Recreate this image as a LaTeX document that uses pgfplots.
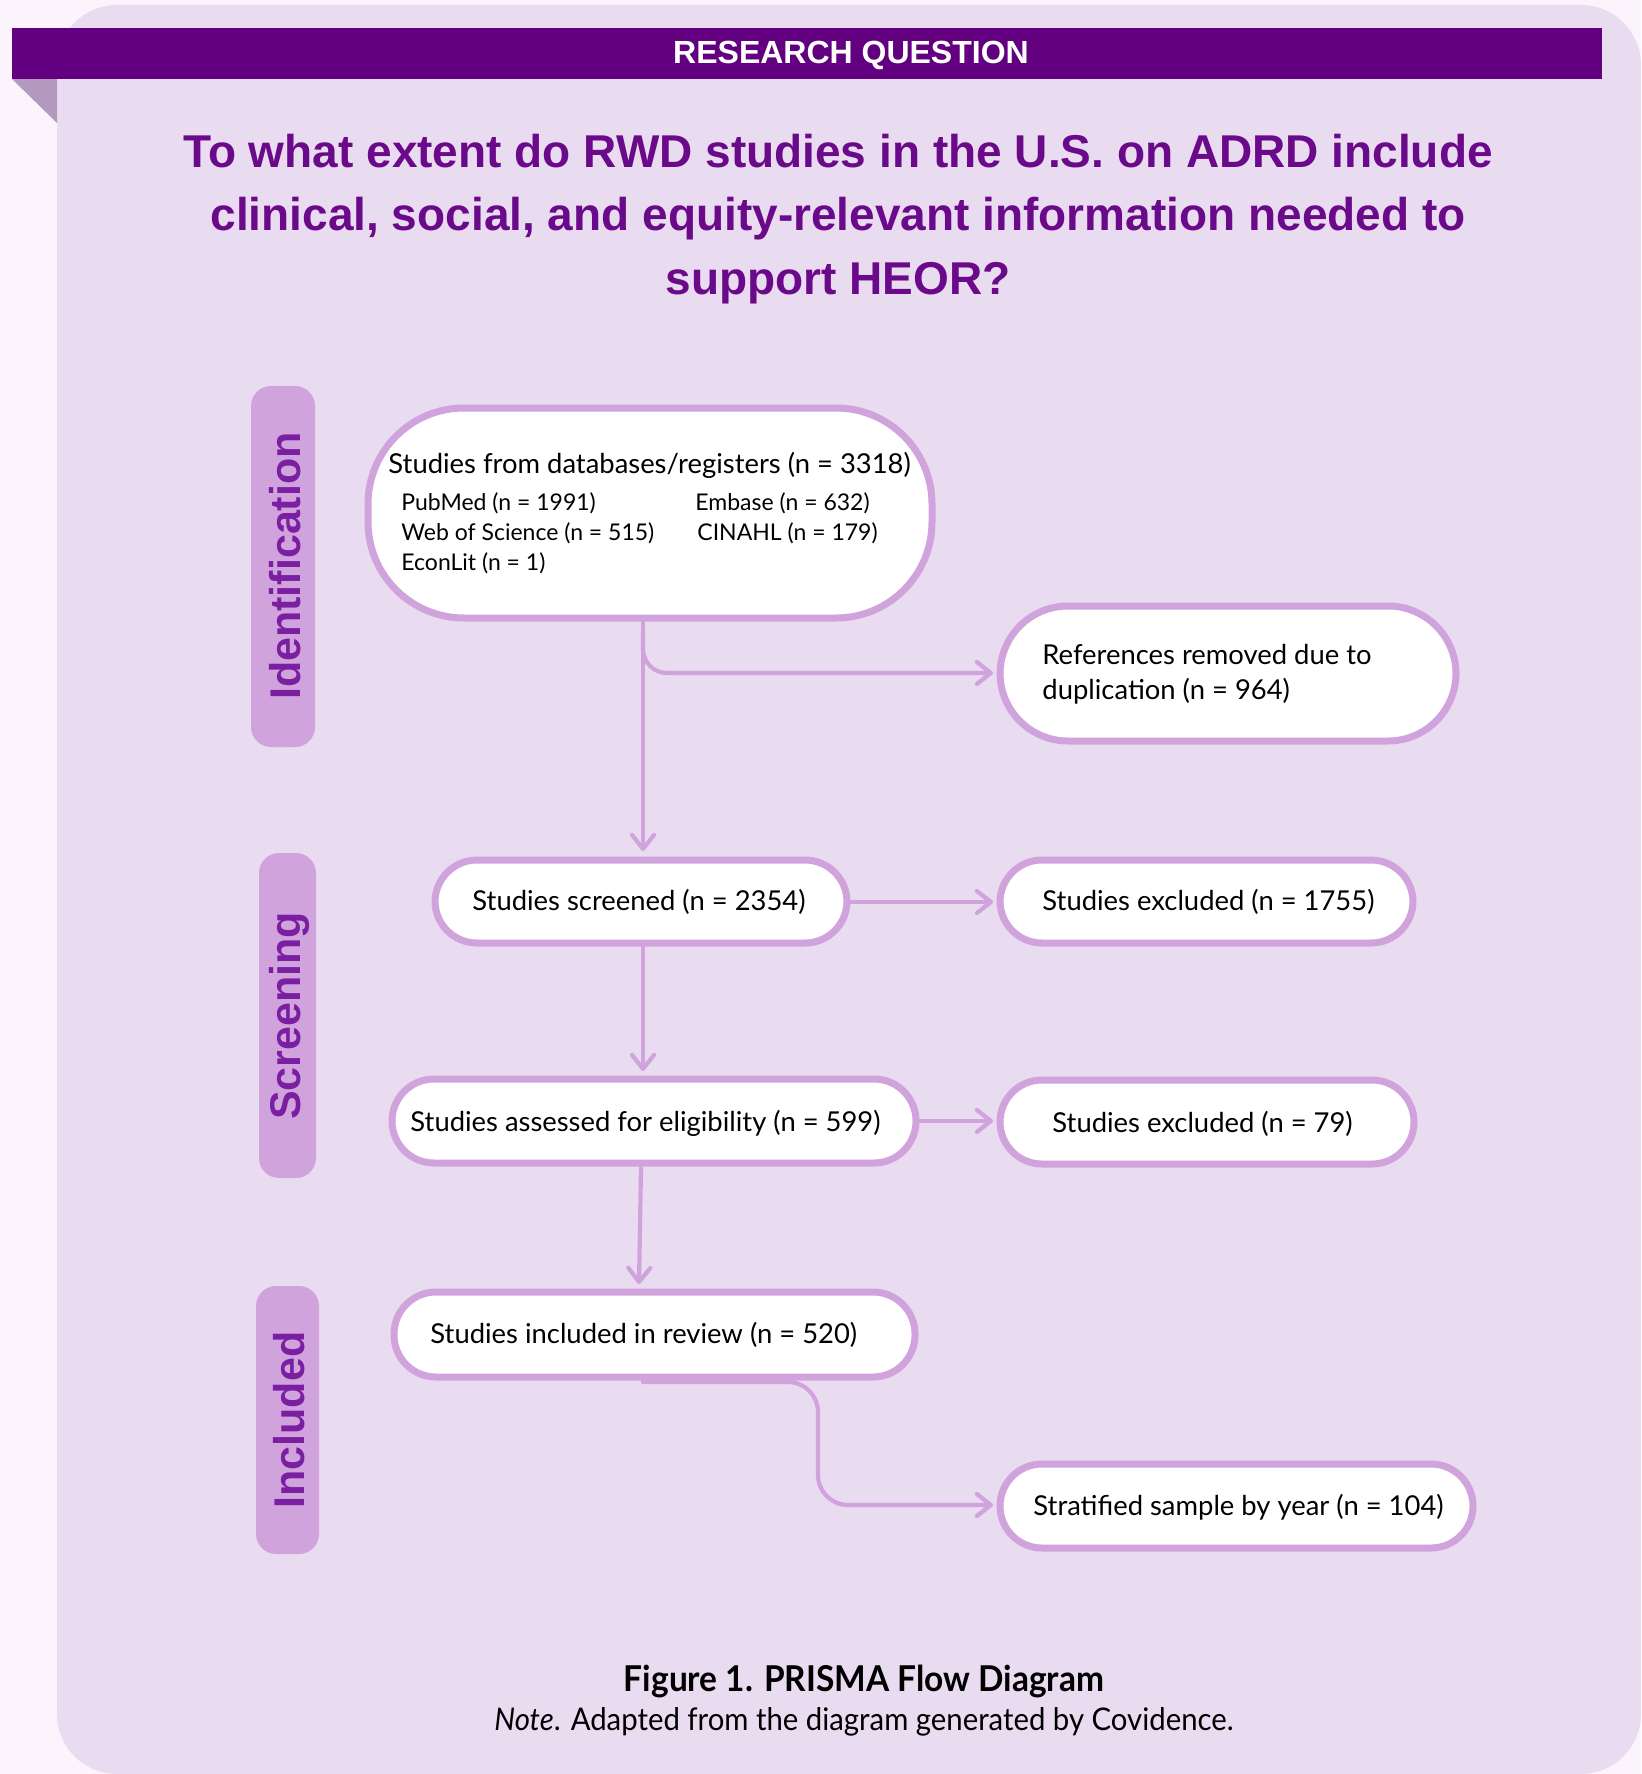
\documentclass[border=0pt]{standalone}
\usepackage{pgfplots}
\pgfplotsset{compat=1.18}
\usetikzlibrary{arrows.meta}
\usepackage{fontspec}
\setmainfont{Lato}
\newfontfamily\arialfont{Liberation Sans}
\newfontfamily\capfont[FakeStretch=0.94]{Lato}
\definecolor{pagebg}{HTML}{FBF4FD}
\definecolor{panel}{HTML}{EADCF0}
\definecolor{banner}{HTML}{620080}
\definecolor{fold}{HTML}{B499BE}
\definecolor{border}{HTML}{D1A3DD}
\definecolor{labtxt}{HTML}{7B1FA2}
\definecolor{qtxt}{HTML}{6A0A8A}
\tikzset{
  arr/.style={draw=border, line width=2.1pt, line cap=round, line join=round,
    -{Straight Barb[length=7pt,width=11pt,line cap=round,line join=round]}},
  bx/.style={draw=border, fill=white, line width=3.5pt},
}
\begin{document}
\begin{tikzpicture}
\begin{axis}[
  width=820.5pt, height=887pt, scale only axis,
  xmin=0, xmax=1641, ymin=0, ymax=1774, y dir=reverse,
  hide axis, clip=false,
]
% backgrounds
\fill[pagebg] (axis cs:0,0) rectangle (axis cs:1641,1774);
\fill[panel, rounded corners=30pt] (axis cs:57,5) rectangle (axis cs:1641,1774);
\fill[fold] (axis cs:12,79) -- (axis cs:57,79) -- (axis cs:57,123) -- cycle;
\fill[banner] (axis cs:12,28) rectangle (axis cs:1602,79);
\node[text=white, font=\arialfont\bfseries\fontsize{16}{18}\selectfont] at (axis cs:851,55) {RESEARCH QUESTION};
\node[text=qtxt, align=center, font=\arialfont\bfseries\fontsize{23}{31.7}\selectfont] at (axis cs:838,219)
  {To what extent do RWD studies in the U.S. on ADRD include\\clinical, social, and equity-relevant information needed to\\support HEOR?};
% phase labels
\fill[border, rounded corners=10pt] (axis cs:251,386) rectangle (axis cs:315,747);
\fill[border, rounded corners=10pt] (axis cs:259,853) rectangle (axis cs:316,1178);
\fill[border, rounded corners=10pt] (axis cs:256,1286) rectangle (axis cs:319,1554);
\node[rotate=90, text=labtxt, font=\arialfont\bfseries\fontsize{21.5}{24}\selectfont] at (axis cs:285,566) {Identification};
\node[rotate=90, text=labtxt, font=\arialfont\bfseries\fontsize{21.5}{24}\selectfont] at (axis cs:289,1016) {Screening};
\node[rotate=90, text=labtxt, font=\arialfont\bfseries\fontsize{21.5}{24}\selectfont] at (axis cs:289,1420) {Included};
% arrows
\addplot[arr] coordinates {(643,622) (643,851)};
\addplot[arr, rounded corners=12pt] coordinates {(643,630) (643,673) (993,673)};
\addplot[arr] coordinates {(851,902) (993,902)};
\addplot[arr] coordinates {(643,947) (643,1071)};
\addplot[arr] coordinates {(920,1121) (993,1121)};
\addplot[arr] coordinates {(641,1167) (639,1284)};
\addplot[arr, rounded corners=15pt] coordinates {(643,1382) (818,1382) (818,1505) (993,1505)};
% boxes
\draw[bx, rounded corners=48pt] (axis cs:368,408) rectangle (axis cs:932,618);
\draw[bx, rounded corners=34pt] (axis cs:1000,606) rectangle (axis cs:1456,741);
\draw[bx, rounded corners=21pt] (axis cs:435,860) rectangle (axis cs:847,943);
\draw[bx, rounded corners=21pt] (axis cs:1000,860) rectangle (axis cs:1413,943);
\draw[bx, rounded corners=21pt] (axis cs:392,1079) rectangle (axis cs:916,1163);
\draw[bx, rounded corners=21pt] (axis cs:1000,1080) rectangle (axis cs:1414,1164);
\draw[bx, rounded corners=21pt] (axis cs:394,1292) rectangle (axis cs:915,1377);
\draw[bx, rounded corners=21pt] (axis cs:1000,1464) rectangle (axis cs:1473,1548);
% box texts
\node[anchor=west, inner sep=0pt, font=\fontsize{13.7}{15}\selectfont] at (axis cs:388,465) {Studies from databases/registers (n = 3318)};
\node[anchor=west, inner sep=0pt, font=\fontsize{11.5}{13}\selectfont] at (axis cs:401,503) {PubMed (n = 1991)};
\node[anchor=west, inner sep=0pt, font=\fontsize{11.5}{13}\selectfont] at (axis cs:695,503) {Embase (n = 632)};
\node[anchor=west, inner sep=0pt, font=\fontsize{11.5}{13}\selectfont] at (axis cs:401,533) {Web of Science (n = 515)};
\node[anchor=west, inner sep=0pt, font=\fontsize{11.5}{13}\selectfont] at (axis cs:697,533) {CINAHL (n = 179)};
\node[anchor=west, inner sep=0pt, font=\fontsize{11.5}{13}\selectfont] at (axis cs:401,563) {EconLit (n = 1)};
\node[anchor=west, inner sep=0pt, align=left, font=\fontsize{13.7}{17.5}\selectfont] at (axis cs:1042,674) {References removed due to\\duplication (n = 964)};
\node[anchor=west, inner sep=0pt, font=\fontsize{13.7}{15}\selectfont] at (axis cs:472,902) {Studies screened (n = 2354)};
\node[anchor=west, inner sep=0pt, font=\fontsize{13.7}{15}\selectfont] at (axis cs:1042,902) {Studies excluded (n = 1755)};
\node[anchor=west, inner sep=0pt, font=\fontsize{13.7}{15}\selectfont] at (axis cs:410,1123) {Studies assessed for eligibility (n = 599)};
\node[anchor=west, inner sep=0pt, font=\fontsize{13.7}{15}\selectfont] at (axis cs:1052,1124) {Studies excluded (n = 79)};
\node[anchor=west, inner sep=0pt, font=\fontsize{13.7}{15}\selectfont] at (axis cs:430,1335) {Studies included in review (n = 520)};
\node[anchor=west, inner sep=0pt, font=\fontsize{13.7}{15}\selectfont] at (axis cs:1033,1507) {Stratified sample by year (n = 104)};
% caption
\node[font=\capfont\bfseries\fontsize{17.8}{20}\selectfont] at (axis cs:864,1681) {Figure 1. PRISMA Flow Diagram};
\node[font=\capfont\fontsize{15.6}{18}\selectfont] at (axis cs:864,1722) {\textit{Note}. Adapted from the diagram generated by Covidence.};
\end{axis}
\end{tikzpicture}
\end{document}
